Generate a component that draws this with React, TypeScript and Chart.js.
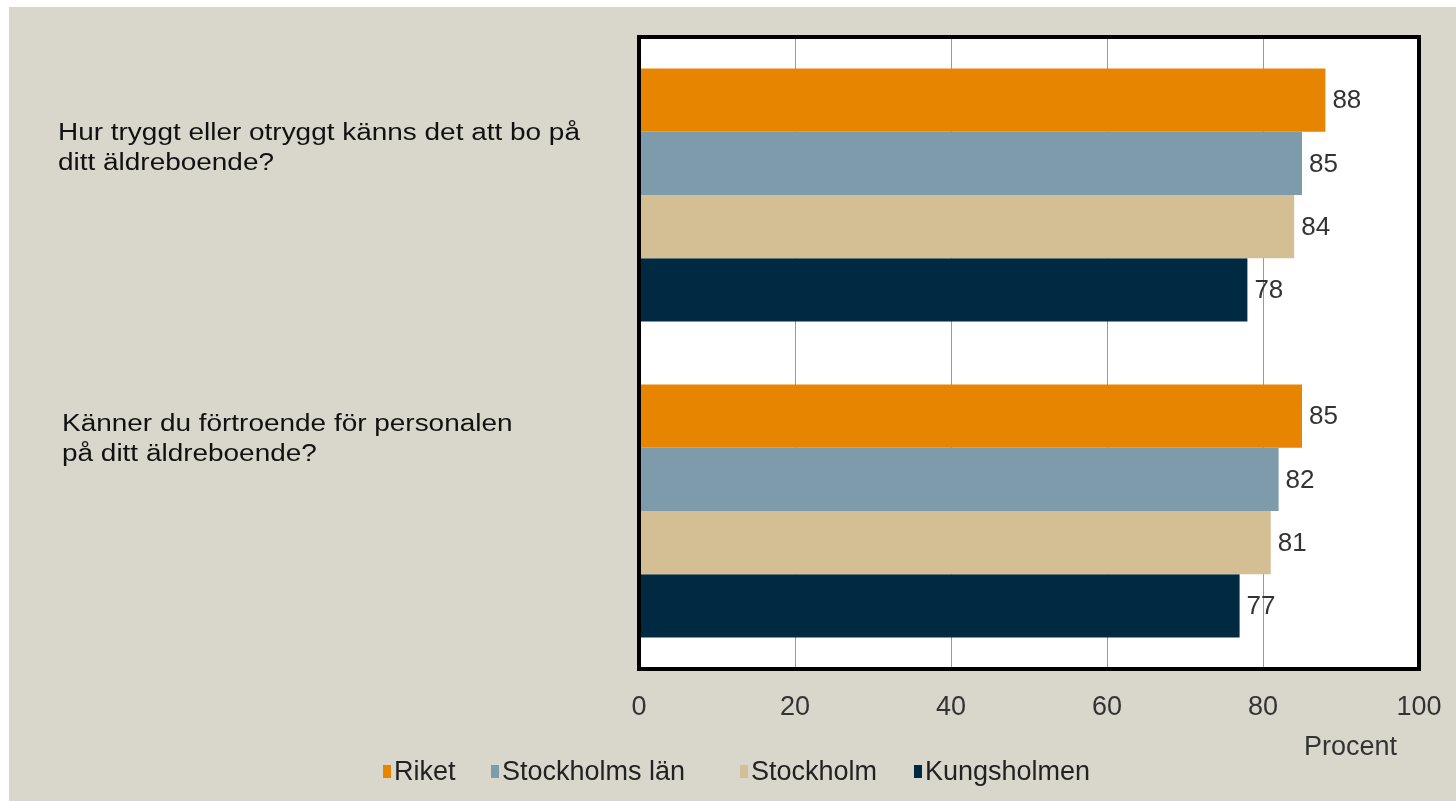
import { useEffect, useRef } from 'react';
import { Chart, registerables } from 'chart.js';

Chart.register(...registerables);

// ---- data ----
const questions: string[][] = [
  ['Hur tryggt eller otryggt känns det att bo på', 'ditt äldreboende?'],
  ['Känner du förtroende för personalen', 'på ditt äldreboende?'],
];
const seriesNames = ['Riket', 'Stockholms län', 'Stockholm', 'Kungsholmen'];
const riket = [88, 85];
const stockholmsLan = [85, 82];
const stockholm = [84, 81];
const kungsholmen = [78, 77];
const xTickValues = [0, 20, 40, 60, 80, 100];
const axisTitle = 'Procent';

// ---- styles ----
const seriesColors = ['#E88500', '#7D9BAA', '#D3BF93', '#002A42'];
const BG = '#D9D7CB';
const FONT = '"Liberation Sans", Arial, sans-serif';
const questionLayout = [
  { x: 58, dy: -55.5 },
  { x: 62, dy: -80.5 },
];
const legendLeft = [383, 491, 740, 914];

const extrasPlugin = {
  id: 'extras',
  beforeDraw(chart: any) {
    const { ctx, chartArea: a } = chart;
    ctx.save();
    ctx.fillStyle = '#ffffff';
    ctx.fillRect(a.left, a.top, a.right - a.left, a.bottom - a.top);
    ctx.restore();
  },
  afterDatasetsDraw(chart: any) {
    const { ctx, chartArea: a } = chart;
    ctx.save();
    // value labels
    ctx.font = `26px ${FONT}`;
    ctx.fillStyle = '#333333';
    ctx.textAlign = 'left';
    ctx.textBaseline = 'middle';
    chart.data.datasets.forEach((ds: any, i: number) => {
      const meta = chart.getDatasetMeta(i);
      meta.data.forEach((bar: any, j: number) => {
        ctx.fillText(String(ds.data[j]), bar.x + 7, bar.y + 1);
      });
    });
    // frame
    ctx.lineWidth = 4;
    ctx.strokeStyle = '#000000';
    ctx.strokeRect(a.left, a.top, a.right - a.left, a.bottom - a.top);
    // question labels
    const yScale = chart.scales.y;
    ctx.font = `23px ${FONT}`;
    ctx.fillStyle = '#111111';
    ctx.textBaseline = 'alphabetic';
    questions.forEach((lines, i) => {
      const c = yScale.getPixelForValue(i);
      const L = questionLayout[i];
      lines.forEach((line, k) => {
        ctx.save();
        ctx.translate(L.x, c + L.dy + k * 30);
        ctx.scale(1.215, 1);
        ctx.fillText(line, 0, 0);
        ctx.restore();
      });
    });
    // axis title
    ctx.font = `27px ${FONT}`;
    ctx.fillStyle = '#333333';
    ctx.textAlign = 'right';
    ctx.fillText(axisTitle, a.right - 22, a.bottom + 86);
    ctx.restore();
  },
};

export default function App() {
  const ref = useRef<HTMLCanvasElement | null>(null);
  useEffect(() => {
    if (!ref.current) return;
    const data = [riket, stockholmsLan, stockholm, kungsholmen];
    const chart = new Chart(ref.current, {
      type: 'bar',
      data: {
        labels: questions.map((q) => q.join(' ')),
        datasets: seriesNames.map((name, i) => ({
          label: name,
          data: data[i],
          backgroundColor: seriesColors[i],
          borderWidth: 0,
          barPercentage: 1,
          categoryPercentage: 0.8,
        })),
      },
      options: {
        indexAxis: 'y',
        responsive: true,
        maintainAspectRatio: false,
        animation: false,
        devicePixelRatio: 1,
        layout: { autoPadding: false, padding: { left: 639, right: 37, top: 37, bottom: 0 } },
        plugins: {
          legend: { display: false },
          tooltip: { enabled: false },
        },
        scales: {
          x: {
            min: 0,
            max: 100,
            afterBuildTicks: (scale: any) => {
              scale.ticks = xTickValues.map((v) => ({ value: v }));
            },
            afterFit: (scale: any) => {
              scale.height = 132;
              scale.paddingLeft = 0;
              scale.paddingRight = 0;
            },
            grid: { color: '#999999', lineWidth: 1, drawTicks: false },
            border: { display: false },
            ticks: {
              padding: 22,
              color: '#333333',
              font: { family: FONT, size: 27 },
            },
          },
          y: {
            display: false,
          },
        },
      },
      plugins: [extrasPlugin],
    } as any);
    return () => chart.destroy();
  }, []);

  return (
    <div style={{ position: 'absolute', left: 0, top: 0, width: 1456, height: 801, background: '#ffffff', overflow: 'hidden' }}>
      <div style={{ position: 'absolute', left: 9, top: 7, right: 0, bottom: 0, background: BG }} />
      <div style={{ position: 'absolute', left: 0, top: 0, width: 1456, height: 801 }}>
        <canvas ref={ref} />
      </div>
      {seriesNames.map((name, i) => (
        <div
          key={name}
          style={{
            position: 'absolute',
            left: legendLeft[i],
            top: 755,
            height: 32,
            display: 'flex',
            alignItems: 'center',
            font: `27px ${FONT}`,
            color: '#222222',
            whiteSpace: 'nowrap',
          }}
        >
          <span style={{ display: 'inline-block', width: 8, height: 13, background: seriesColors[i], marginRight: 3 }} />
          {name}
        </div>
      ))}
    </div>
  );
}
